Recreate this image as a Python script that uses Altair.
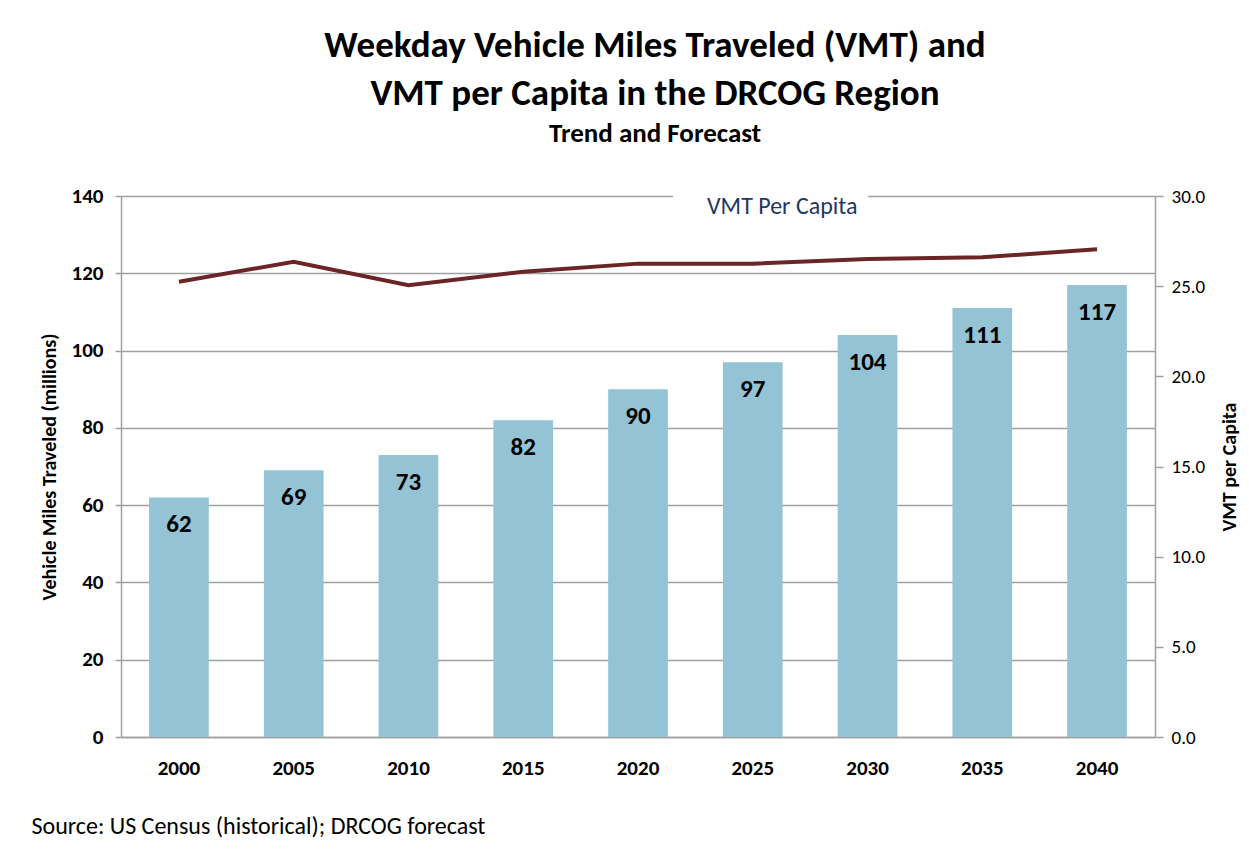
import altair as alt
import pandas as pd

years = ["2000", "2005", "2010", "2015", "2020", "2025", "2030", "2035", "2040"]
vmt_millions = [62, 69, 73, 82, 90, 97, 104, 111, 117]
vmt_per_capita = [25.25, 26.35, 25.05, 25.8, 26.25, 26.25, 26.5, 26.6, 27.05]
series_name = ["VMT Per Capita"] * len(years)

df = pd.DataFrame({
    "year": years,
    "vmt": vmt_millions,
    "pc": vmt_per_capita,
    "series": series_name,
})

FONT = "Carlito, Lato, 'Open Sans', sans-serif"
GRID = "#A0A0A0"

x_enc = alt.X(
    "year:N",
    sort=years,
    scale=alt.Scale(paddingInner=0.48, paddingOuter=0.245),
    axis=alt.Axis(
        title="Source:  US Census (historical); DRCOG forecast",
        titleAnchor="start",
        titleAlign="left",
        titleX=-90,
        titleY=89,
        titleBaseline="middle",
        titleFontWeight="normal",
        titleFontSize=24,
        titleFont=FONT,
        titleColor="#000000",
        labelAngle=0,
        labelFont=FONT,
        labelFontSize=21,
        labelFontWeight="bold",
        labelColor="#000000",
        labelPadding=20,
        ticks=False,
        domainColor=GRID,
        domainWidth=1.5,
        grid=False,
    ),
)

y_left = alt.Y(
    "vmt:Q",
    scale=alt.Scale(domain=[0, 140]),
    axis=alt.Axis(
        title="Vehicle Miles Traveled (millions)",
        values=[0, 20, 40, 60, 80, 100, 120, 140],
        titleFont=FONT,
        titleFontSize=20,
        titleFontWeight="bold",
        titleColor="#000000",
        titlePadding=12,
        labelFont=FONT,
        labelFontSize=21,
        labelFontWeight="bold",
        labelColor="#000000",
        labelPadding=12,
        tickSize=6,
        tickColor=GRID,
        tickWidth=1.5,
        domainColor=GRID,
        domainWidth=1.5,
        grid=True,
        gridColor=GRID,
        gridWidth=1.5,
    ),
)

bars = alt.Chart(df).mark_bar(color="#93C3D5").encode(x=x_enc, y=y_left)

labels = alt.Chart(df).mark_text(
    font=FONT, fontSize=25, fontWeight="bold", color="#000000",
    baseline="middle", dy=27,
).encode(
    x=alt.X("year:N", sort=years),
    y=alt.Y("vmt:Q"),
    text=alt.Text("vmt:Q"),
)

line = alt.Chart(df).mark_line(strokeWidth=4).encode(
    x=alt.X("year:N", sort=years),
    y=alt.Y(
        "pc:Q",
        scale=alt.Scale(domain=[0, 30]),
        axis=alt.Axis(
            orient="right",
            title="VMT per Capita",
            values=[0, 5, 10, 15, 20, 25, 30],
            format=".1f",
            titleFont=FONT,
            titleFontSize=20,
            titleFontWeight="bold",
            titleColor="#000000",
            titleAngle=270,
            titlePadding=35,
            labelFont=FONT,
            labelFontSize=19,
            labelColor="#000000",
            labelPadding=8,
            tickSize=8,
            tickColor=GRID,
            tickWidth=1.5,
            domainColor=GRID,
            domainWidth=1.5,
            grid=False,
        ),
    ),
    color=alt.Color(
        "series:N",
        scale=alt.Scale(domain=["VMT Per Capita"], range=["#6B2527"]),
        legend=alt.Legend(
            title=None,
            orient="none",
            legendX=552,
            legendY=-11,
            fillColor="#FFFFFF",
            padding=10,
            symbolSize=0,
            symbolStrokeWidth=0,
            symbolOpacity=0,
            labelOffset=0,
            labelFont=FONT,
            labelFontSize=24,
            labelColor="#1F3864",
        ),
    ),
)

chart = alt.layer(alt.layer(bars, labels), line).resolve_scale(y="independent").properties(
    width=1034,
    height=541,
    autosize=alt.AutoSizeParams(type="none"),
    padding={"left": 113, "top": 188, "right": 86, "bottom": 109},
    title=alt.TitleParams(
        text=["Weekday Vehicle Miles Traveled (VMT) and", "VMT per Capita in the DRCOG Region"],
        subtitle="Trend and Forecast",
        font=FONT,
        fontSize=37,
        fontWeight="bold",
        lineHeight=48,
        color="#000000",
        subtitleFont=FONT,
        subtitleFontSize=27,
        subtitleFontWeight="bold",
        subtitleColor="#000000",
        subtitlePadding=8,
        anchor="middle",
        dx=17,
        offset=37,
    ),
).configure_view(stroke=None).configure(background="#FFFFFF")

chart.save("out.html", embed_options={"renderer": "svg", "actions": False})
